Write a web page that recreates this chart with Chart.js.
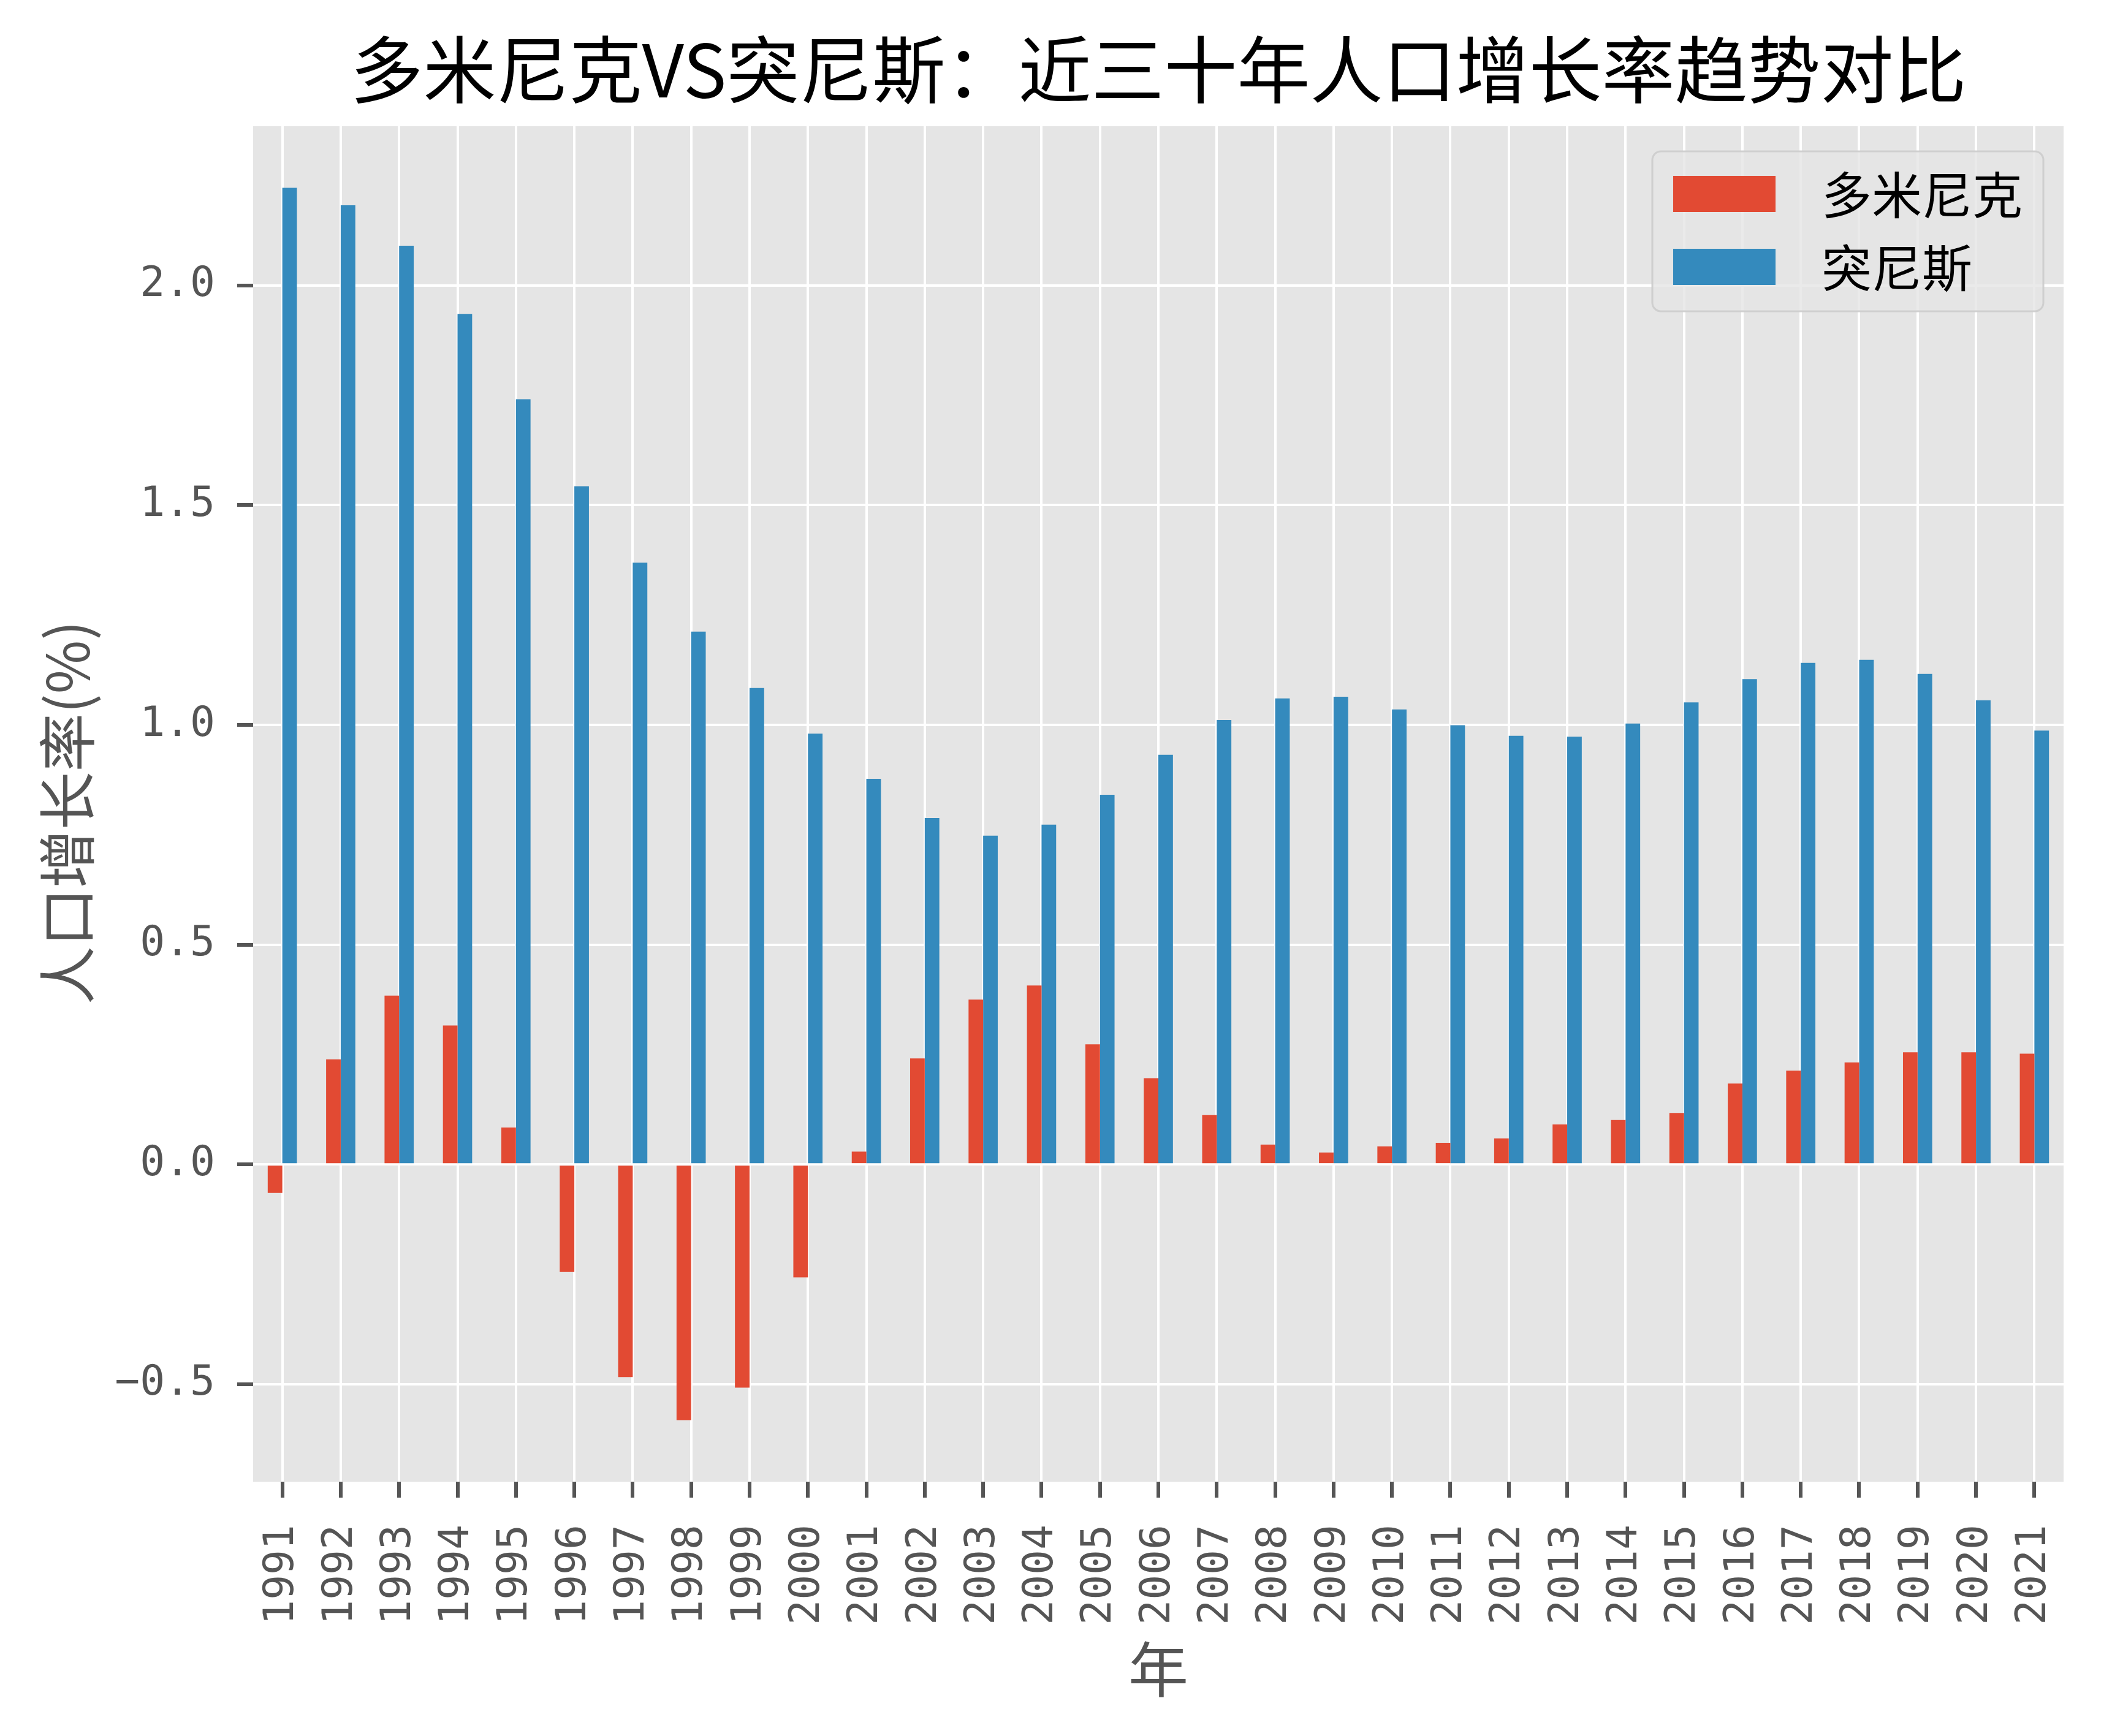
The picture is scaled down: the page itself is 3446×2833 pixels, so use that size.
<!DOCTYPE html>
<html>
<head>
<meta charset="utf-8">
<script src="https://cdn.jsdelivr.net/npm/chart.js@4"></script>
<style>
    html, body { margin: 0; padding: 0; background: #ffffff; }
    canvas { display: block; }
</style>
</head>
<body>
<canvas id="growthChart" width="3446" height="2833" style="width:3446px;height:2833px;"></canvas>
<script>
let years = ['1991', '1992', '1993', '1994', '1995', '1996', '1997', '1998', '1999', '2000',
    '2001', '2002', '2003', '2004', '2005', '2006', '2007', '2008', '2009', '2010',
    '2011', '2012', '2013', '2014', '2015', '2016', '2017', '2018', '2019', '2020', '2021'];

let dominica = [-0.065, 0.239, 0.384, 0.316, 0.084, -0.245, -0.484, -0.582, -0.508, -0.257,
    0.029, 0.241, 0.375, 0.407, 0.273, 0.196, 0.112, 0.045, 0.027, 0.041,
    0.049, 0.059, 0.091, 0.101, 0.117, 0.184, 0.213, 0.232, 0.255, 0.255, 0.252];

let tunisia = [2.222, 2.182, 2.090, 1.935, 1.741, 1.543, 1.369, 1.212, 1.084, 0.980,
    0.877, 0.788, 0.748, 0.773, 0.841, 0.932, 1.011, 1.060, 1.064, 1.035,
    0.999, 0.975, 0.973, 1.003, 1.051, 1.104, 1.141, 1.148, 1.116, 1.056, 0.987];

let seriesNames = ['多米尼克', '突尼斯'];
let yRange = [-0.722, 2.362];

let chartTitle = '多米尼克VS突尼斯：近三十年人口增长率趋势对比';
let xTitle = '年';
let yTitle = '人口增长率(%)';

document.addEventListener('DOMContentLoaded', function() {
    let cjk = '"Noto Sans CJK SC", "Noto Sans", sans-serif';
    let mono = '"DejaVu Sans Mono", "Liberation Mono", monospace';

    // grey panel behind the bars, ggplot style
    let panelBackground = {
        id: 'panelBackground',
        beforeDraw: function(chart) {
            let a = chart.chartArea;
            let ctx = chart.ctx;
            ctx.save();
            ctx.fillStyle = '#E5E5E5';
            ctx.fillRect(a.left, a.top, a.right - a.left, a.bottom - a.top);
            ctx.restore();
        }
    };

    // title, axis titles and the framed legend
    let textLayer = {
        id: 'textLayer',
        afterDraw: function(chart) {
            let a = chart.chartArea;
            let ctx = chart.ctx;
            let cx = (a.left + a.right) / 2;
            ctx.save();

            ctx.fillStyle = '#000000';
            ctx.font = '119px ' + cjk;
            ctx.textAlign = 'center';
            ctx.textBaseline = 'middle';
            ctx.fillText(chartTitle, cx, 114);

            ctx.fillStyle = '#555555';
            ctx.font = '98px ' + cjk;
            ctx.fillText(xTitle, cx, 2724);

            ctx.save();
            ctx.translate(110, 1326);
            ctx.rotate(-Math.PI / 2);
            ctx.font = '95px ' + cjk;
            ctx.fillText(yTitle, 0, 0);
            ctx.restore();

            // legend box
            let bx = a.right - 671, by = a.top + 41, bw = 638, bh = 261;
            ctx.beginPath();
            ctx.roundRect(bx, by, bw, bh, 14);
            ctx.fillStyle = 'rgba(229,229,229,0.8)';
            ctx.fill();
            ctx.lineWidth = 3;
            ctx.strokeStyle = 'rgba(204,204,204,0.9)';
            ctx.stroke();

            ctx.font = '82px ' + cjk;
            ctx.textAlign = 'left';
            chart.data.datasets.forEach(function(ds, i) {
                let rowY = by + 69 + i * 119;
                ctx.fillStyle = ds.backgroundColor;
                ctx.fillRect(bx + 34, rowY - 29, 167, 59);
                ctx.fillStyle = '#000000';
                ctx.fillText(ds.label, bx + 276, rowY + 2);
            });

            ctx.restore();
        }
    };

    let ctx = document.getElementById('growthChart').getContext('2d');
    new Chart(ctx, {
        type: 'bar',
        data: {
            labels: years,
            datasets: [{
                label: seriesNames[0],
                data: dominica,
                backgroundColor: '#E24A33',
                borderWidth: 0,
                categoryPercentage: 0.5,
                barPercentage: 1.0
            }, {
                label: seriesNames[1],
                data: tunisia,
                backgroundColor: '#348ABD',
                borderWidth: 0,
                categoryPercentage: 0.5,
                barPercentage: 1.0
            }]
        },
        options: {
            responsive: false,
            animation: false,
            devicePixelRatio: 1,
            layout: {
                padding: { top: 206, right: 64, bottom: 0, left: 0 }
            },
            plugins: {
                legend: { display: false },
                title: { display: false },
                tooltip: { enabled: false }
            },
            scales: {
                x: {
                    offset: true,
                    afterFit: function(scale) { scale.height = 415; },
                    grid: {
                        offset: false,
                        color: '#FFFFFF',
                        lineWidth: 4,
                        drawTicks: true,
                        tickLength: 26,
                        tickColor: '#555555',
                        tickWidth: 6
                    },
                    border: { display: false },
                    ticks: {
                        autoSkip: false,
                        minRotation: 90,
                        maxRotation: 90,
                        padding: 44,
                        color: '#555555',
                        font: { family: mono, size: 68 }
                    }
                },
                y: {
                    min: yRange[0],
                    max: yRange[1],
                    afterFit: function(scale) { scale.width = 413; },
                    grid: {
                        color: '#FFFFFF',
                        lineWidth: 4,
                        drawTicks: true,
                        tickLength: 26,
                        tickColor: '#555555',
                        tickWidth: 6
                    },
                    border: { display: false },
                    ticks: {
                        stepSize: 0.5,
                        includeBounds: false,
                        padding: 36,
                        color: '#555555',
                        font: { family: mono, size: 68 },
                        callback: function(value) {
                            return value.toFixed(1).replace('-', '\u2212');
                        }
                    }
                }
            }
        },
        plugins: [panelBackground, textLayer]
    });
});
</script>
</body>
</html>
